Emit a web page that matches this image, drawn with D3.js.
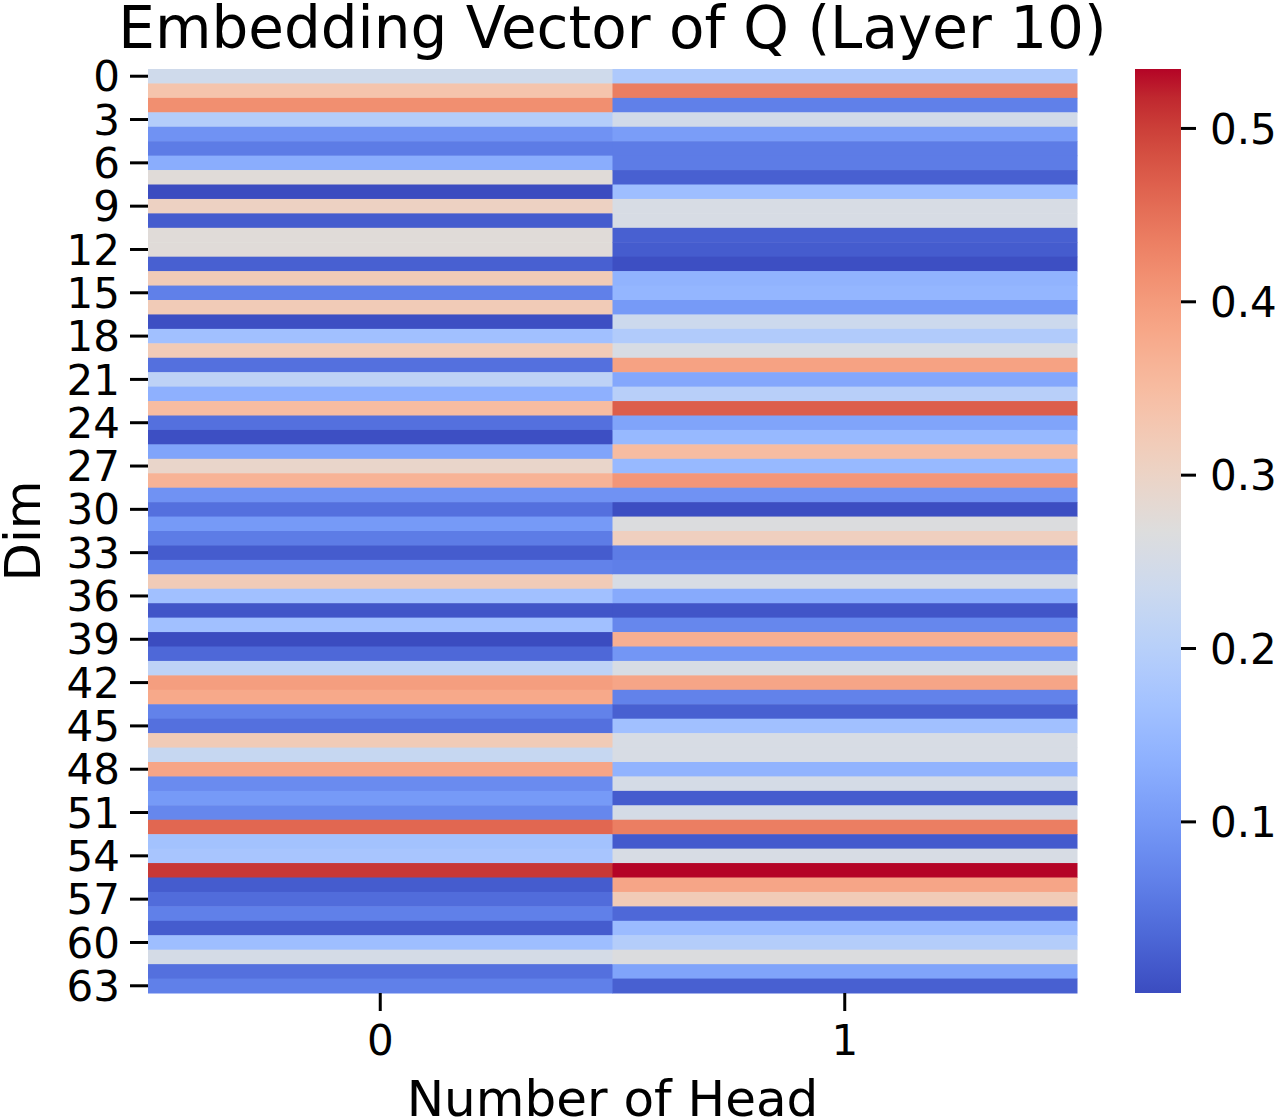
<!DOCTYPE html>
<html>
<head>
<meta charset="utf-8">
<script src="https://cdn.jsdelivr.net/npm/d3@7"></script>
<style>
  body { margin: 0; background: #fff; }
  svg text { font-family: "DejaVu Sans", sans-serif; fill: #000; }
</style>
</head>
<body>
<script>
(function(){

//heads on x axis, dims on y axis
var heads = [0, 1];
var dims = d3.range(64);
var dimTicks = [0,3,6,9,12,15,18,21,24,27,30,33,36,39,42,45,48,51,54,57,60,63];
var barTicks = [0.1, 0.2, 0.3, 0.4, 0.5];

//values, one per dim
var head0 = [0.24,0.335,0.415,0.195,0.09,0.06,0.13,0.275,0.001,0.305,
             0.02,0.275,0.275,0.025,0.32,0.065,0.32,0.005,0.165,0.32,
             0.045,0.21,0.135,0.35,0.045,0.005,0.115,0.295,0.365,0.09,
             0.045,0.10,0.06,0.02,0.068,0.32,0.165,0.012,0.165,0.001,
             0.035,0.21,0.395,0.38,0.068,0.045,0.32,0.225,0.385,0.08,
             0.10,0.075,0.46,0.168,0.175,0.505,0.02,0.04,0.065,0.02,
             0.16,0.25,0.045,0.065];
var head1 = [0.185,0.435,0.065,0.245,0.105,0.06,0.06,0.025,0.16,0.255,
             0.255,0.025,0.02,0.005,0.14,0.145,0.10,0.235,0.19,0.255,
             0.39,0.12,0.20,0.47,0.115,0.15,0.35,0.15,0.405,0.09,
             0.003,0.265,0.31,0.06,0.064,0.255,0.125,0.012,0.075,0.37,
             0.095,0.255,0.385,0.068,0.025,0.165,0.255,0.255,0.14,0.25,
             0.02,0.25,0.435,0.018,0.255,0.534,0.385,0.32,0.035,0.155,
             0.195,0.265,0.115,0.025];
var series = [head0, head1];

//matplotlib coolwarm, 33 evenly spaced stops (r, g, b in 0..1)
var coolwarmStops = [
  [0.2298,0.2987,0.7537],[0.2662,0.3531,0.8015],[0.3039,0.4065,0.8450],[0.3428,0.4588,0.8837],
  [0.3830,0.5094,0.9174],[0.4244,0.5581,0.9456],[0.4667,0.6046,0.9682],[0.5096,0.6483,0.9848],
  [0.5530,0.6889,0.9954],[0.5963,0.7261,0.9998],[0.6392,0.7596,0.9982],[0.6813,0.7890,0.9904],
  [0.7222,0.8140,0.9766],[0.7615,0.8343,0.9569],[0.7987,0.8498,0.9317],[0.8335,0.8602,0.9011],
  [0.8654,0.8654,0.8654],[0.8978,0.8489,0.8209],[0.9241,0.8274,0.7745],[0.9445,0.8009,0.7267],
  [0.9589,0.7698,0.6780],[0.9673,0.7341,0.6288],[0.9700,0.6943,0.5794],[0.9668,0.6504,0.5303],
  [0.9580,0.6028,0.4818],[0.9437,0.5518,0.4342],[0.9239,0.4973,0.3880],[0.8990,0.4396,0.3432],
  [0.8692,0.3783,0.3003],[0.8346,0.3129,0.2593],[0.7956,0.2413,0.2205],[0.7525,0.1572,0.1841],
  [0.7057,0.0156,0.1502]
];
var coolwarm = coolwarmStops.map(function(c){
    return d3.rgb(c[0] * 255, c[1] * 255, c[2] * 255);
});
var interpCoolwarm = d3.piecewise(d3.interpolateRgb, coolwarm);

var width = 1275, height = 1120;
var left = 148, right = 1077, top = 69, bottom = 993;

var svg = d3.select("body").append("svg")
    .attr("width", width)
    .attr("height", height);

var allVals = head0.concat(head1);
var vmin = d3.min(allVals), vmax = d3.max(allVals);

var colorScale = d3.scaleSequential(interpCoolwarm)
    .domain([vmin, vmax]);

var x = d3.scaleBand().domain(heads).range([left, right]);
var y = d3.scaleBand().domain(dims).range([top, bottom]);

//cells
heads.forEach(function(h){
    svg.selectAll(".cell" + h)
        .data(series[h])
        .enter()
        .append("rect")
        .attr("x", x(h))
        .attr("y", function(d, i){ return y(i); })
        .attr("width", x.bandwidth() + 0.5)
        .attr("height", y.bandwidth() + 0.5)
        .style("fill", function(d){ return colorScale(d); });
});

//y axis
var yAxis = d3.axisLeft(y).tickValues(dimTicks).tickSize(18).tickPadding(10);
var gy = svg.append("g").attr("transform", "translate(" + left + ",0)").call(yAxis);
gy.select(".domain").remove();
gy.selectAll("line").attr("stroke", "#000").attr("stroke-width", 3);
gy.selectAll("text").style("font-size", "42px").attr("dy", "0.36em");

//x axis
var xAxis = d3.axisBottom(x).tickSize(18).tickPadding(14);
var gx = svg.append("g").attr("transform", "translate(0," + bottom + ")").call(xAxis);
gx.select(".domain").remove();
gx.selectAll("line").attr("stroke", "#000").attr("stroke-width", 3);
gx.selectAll("text").style("font-size", "42px");

//labels
svg.append("text")
    .attr("x", (left + right) / 2).attr("y", 48)
    .attr("text-anchor", "middle")
    .style("font-size", "58px")
    .text("Embedding Vector of Q (Layer 10)");

svg.append("text")
    .attr("x", (left + right) / 2).attr("y", 1116)
    .attr("text-anchor", "middle")
    .style("font-size", "50px")
    .text("Number of Head");

svg.append("text")
    .attr("transform", "translate(40," + (top + bottom) / 2 + ") rotate(-90)")
    .attr("text-anchor", "middle")
    .style("font-size", "50px")
    .text("Dim");

//colorbar
var cbX = 1135, cbW = 46;
var cbScale = d3.scaleLinear().domain([vmin, vmax]).range([bottom, top]);
var defs = svg.append("defs");
var grad = defs.append("linearGradient")
    .attr("id", "cbgrad")
    .attr("x1", 0).attr("y1", 1).attr("x2", 0).attr("y2", 0);
coolwarm.forEach(function(c, i){
    grad.append("stop")
        .attr("offset", i / (coolwarm.length - 1))
        .attr("stop-color", c);
});
svg.append("rect")
    .attr("x", cbX).attr("y", top)
    .attr("width", cbW).attr("height", bottom - top)
    .style("fill", "url(#cbgrad)");

var cbAxis = d3.axisRight(cbScale).tickValues(barTicks).tickSize(15).tickPadding(14)
    .tickFormat(d3.format(".1f"));
var gc = svg.append("g").attr("transform", "translate(" + (cbX + cbW) + ",0)").call(cbAxis);
gc.select(".domain").remove();
gc.selectAll("line").attr("stroke", "#000").attr("stroke-width", 3);
gc.selectAll("text").style("font-size", "42px").attr("dy", "0.36em");

})();
</script>
</body>
</html>
